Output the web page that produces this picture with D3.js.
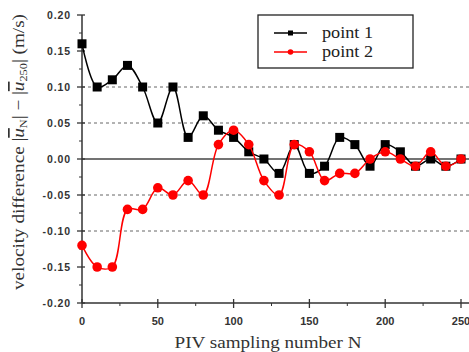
<!DOCTYPE html>
<html><head><meta charset="utf-8">
<script src="https://cdn.jsdelivr.net/npm/d3@7"></script>
<style>
html,body{margin:0;padding:0;background:#fff;}
svg{display:block;}
</style></head>
<body>
<script>
const samplingN = [0,10,20,30,40,50,60,70,80,90,100,110,120,130,140,150,160,170,180,190,200,210,220,230,240,250];
const point1 = [0.16,0.10,0.11,0.13,0.10,0.05,0.10,0.03,0.06,0.04,0.03,0.01,0.00,-0.02,0.02,-0.02,-0.01,0.03,0.02,-0.01,0.02,0.01,-0.01,0.00,-0.01,0.00];
const point2 = [-0.12,-0.15,-0.15,-0.07,-0.07,-0.04,-0.05,-0.03,-0.05,0.02,0.04,0.02,-0.03,-0.05,0.02,0.01,-0.03,-0.02,-0.02,0.00,0.01,0.00,-0.01,0.01,-0.01,0.00];
const seriesNames = ["point 1","point 2"];
const yTicks = [-0.20,-0.15,-0.10,-0.05,0.00,0.05,0.10,0.15,0.20];
const xTicks = [0,50,100,150,200,250];
const dashedLevels = [-0.10,-0.05,0.05,0.10];

const W=469,H=352;
const svg=d3.select("body").append("svg").attr("width",W).attr("height",H);
const x=d3.scaleLinear().domain([0,250]).range([82,461]);
const y=d3.scaleLinear().domain([-0.2,0.2]).range([303,15]);
const axisColor="#333";

// dashed grid
svg.append("g").selectAll("line").data(dashedLevels).join("line")
  .attr("x1",x(0)).attr("x2",W).attr("y1",d=>y(d)).attr("y2",d=>y(d))
  .attr("stroke","#666").attr("stroke-width",1).attr("stroke-dasharray","3,3");
// zero line
svg.append("line").attr("x1",x(0)).attr("x2",W).attr("y1",y(0)).attr("y2",y(0))
  .attr("stroke","#444").attr("stroke-width",1.3);

// y axis
const ya=svg.append("g");
ya.append("line").attr("x1",x(0)).attr("x2",x(0)).attr("y1",y(0.2)).attr("y2",y(-0.2)).attr("stroke",axisColor).attr("stroke-width",1.5);
ya.selectAll(".maj").data(yTicks).join("line").attr("x1",x(0)-5).attr("x2",x(0)+3)
  .attr("y1",d=>y(d)).attr("y2",d=>y(d)).attr("stroke",axisColor).attr("stroke-width",1.3);
const yMinor=d3.range(-0.175,0.2,0.05);
ya.selectAll(".min").data(yMinor).join("line").attr("x1",x(0)-3).attr("x2",x(0))
  .attr("y1",d=>y(d)).attr("y2",d=>y(d)).attr("stroke",axisColor).attr("stroke-width",1);
ya.selectAll("text").data(yTicks).join("text")
  .attr("x",71).attr("y",d=>y(d)).attr("dy","0.35em").attr("text-anchor","end")
  .attr("font-family","Liberation Sans, Arial, sans-serif").attr("font-weight","bold")
  .attr("font-size",10.5).attr("letter-spacing",0.9).attr("fill","#333")
  .text(d=>d3.format(".2f")(d).replace("\u2212","-"));

// x axis
const xa=svg.append("g");
xa.append("line").attr("x1",x(0)).attr("x2",W).attr("y1",y(-0.2)).attr("y2",y(-0.2)).attr("stroke",axisColor).attr("stroke-width",1.5);
xa.selectAll(".maj").data(xTicks).join("line").attr("x1",d=>x(d)).attr("x2",d=>x(d))
  .attr("y1",y(-0.2)-4).attr("y2",y(-0.2)+5).attr("stroke",axisColor).attr("stroke-width",1.3);
xa.selectAll(".min").data([25,75,125,175,225]).join("line").attr("x1",d=>x(d)).attr("x2",d=>x(d))
  .attr("y1",y(-0.2)).attr("y2",y(-0.2)+3).attr("stroke",axisColor).attr("stroke-width",1);
xa.selectAll("text").data(xTicks).join("text")
  .attr("x",d=>x(d)).attr("y",325).attr("text-anchor","middle")
  .attr("font-family","Liberation Sans, Arial, sans-serif").attr("font-weight","bold")
  .attr("font-size",11).attr("fill","#333").text(d=>d);

// axis titles
svg.append("text").attr("x",268).attr("y",348).attr("text-anchor","middle")
  .attr("font-family","Liberation Serif, Times New Roman, serif").attr("font-size",17)
  .attr("fill","#333").attr("textLength",187).attr("lengthAdjust","spacingAndGlyphs")
  .text("PIV sampling number N");

const yl=svg.append("text").attr("transform","translate(24,152) rotate(-90)")
  .attr("text-anchor","middle").attr("font-family","Liberation Serif, Times New Roman, serif")
  .attr("font-size",17).attr("fill","#333")
  .attr("textLength",276).attr("lengthAdjust","spacingAndGlyphs");
yl.append("tspan").text("velocity difference |");
yl.append("tspan").attr("font-style","italic").style("text-decoration","overline").text("u");
yl.append("tspan").attr("font-size",11).attr("baseline-shift","-25%").text("N");
yl.append("tspan").text("| \u2212 |");
yl.append("tspan").attr("font-style","italic").style("text-decoration","overline").text("u");
yl.append("tspan").attr("font-size",11).attr("baseline-shift","-25%").text("250");
yl.append("tspan").text("| (m/s)");

// series
const series=[{name:seriesNames[0],vals:point1,color:"#000",shape:"square"},
              {name:seriesNames[1],vals:point2,color:"#f00",shape:"circle"}];
const line=d3.line().x(d=>x(d[0])).y(d=>y(d[1])).curve(d3.curveCatmullRom.alpha(0.5));
series.forEach(s=>{
  const pts=samplingN.map((n,i)=>[n,s.vals[i]]);
  svg.append("path").datum(pts).attr("d",line).attr("fill","none")
    .attr("stroke",s.color).attr("stroke-width",1.5);
  const g=svg.append("g");
  if(s.shape==="square"){
    g.selectAll("rect").data(pts).join("rect")
      .attr("x",d=>x(d[0])-4.5).attr("y",d=>y(d[1])-4.5).attr("width",9).attr("height",9).attr("fill",s.color);
  } else {
    g.selectAll("circle").data(pts).join("circle")
      .attr("cx",d=>x(d[0])).attr("cy",d=>y(d[1])).attr("r",4.8).attr("fill",s.color);
  }
});

// legend
const lg=svg.append("g");
lg.append("rect").attr("x",258).attr("y",15).attr("width",155).attr("height",53)
  .attr("fill","#fff").attr("stroke","#222").attr("stroke-width",1.3);
series.forEach((s,i)=>{
  const yy=33+i*19;
  lg.append("line").attr("x1",274).attr("x2",307).attr("y1",yy).attr("y2",yy).attr("stroke",s.color).attr("stroke-width",1.5);
  if(s.shape==="square") lg.append("rect").attr("x",288).attr("y",yy-2.5).attr("width",5).attr("height",5).attr("fill",s.color);
  else lg.append("circle").attr("cx",290.5).attr("cy",yy).attr("r",2.8).attr("fill",s.color);
  lg.append("text").attr("x",322).attr("y",yy+5).attr("font-family","Liberation Serif, Times New Roman, serif")
    .attr("font-size",17).attr("fill","#222").attr("textLength",51).attr("lengthAdjust","spacingAndGlyphs").text(s.name);
});
</script>
</body></html>
